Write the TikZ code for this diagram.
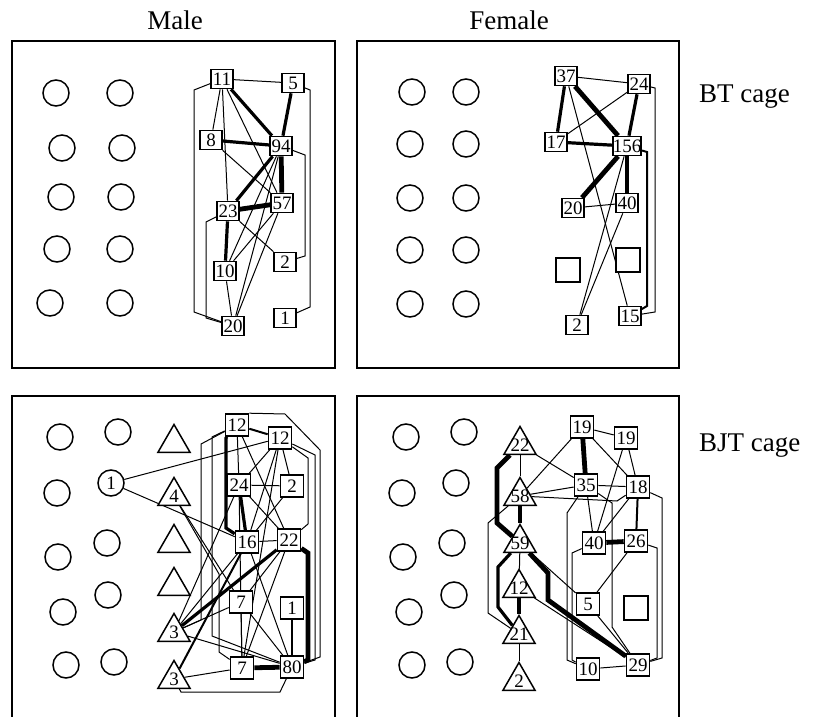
\documentclass[tikz,border=0pt]{standalone}
\usepackage{fontspec}
\setmainfont{Liberation Serif}
\usetikzlibrary{shapes.geometric,backgrounds}

\begin{document}
\begin{tikzpicture}[x=1pt,y=-1pt]
\tikzstyle{every node}+=[inner sep=0pt]
\tikzstyle{num}=[font=\fontsize{19}{19}\selectfont]
\tikzstyle{sq}=[num,draw,fill=white,line width=1.6pt,minimum width=22pt,minimum height=19pt]
\tikzstyle{sqb}=[sq,minimum width=23pt,minimum height=22pt]
\tikzstyle{blank}=[draw,fill=white,line width=1.6pt,minimum size=24pt]
\tikzstyle{ring}=[num,circle,draw,fill=white,line width=1.5pt,minimum size=26pt]
\tikzstyle{tri}=[regular polygon,regular polygon sides=3,draw,fill=white,line width=1.5pt,minimum size=37pt]
\tikzstyle{w1}=[line width=1pt]
\tikzstyle{w2}=[line width=2pt]
\tikzstyle{w3}=[line width=3.2pt]
\tikzstyle{w4}=[line width=4.8pt]
\tikzstyle{frame}=[line width=1.4pt]
\tikzstyle{head}=[font=\fontsize{27}{27}\selectfont]
\useasboundingbox (0,0) rectangle (817,717);

% headings
\node[head] (male) at (175,20) {Male};
\node[head] (female) at (509,20) {Female};
\node[head,anchor=west] (bt) at (699,97) {BT cage};
\node[head,anchor=west] (bjt) at (699,446) {BJT cage};

% cages
\draw[frame] (12,41) rectangle (335,368);
\draw[frame] (357,41) rectangle (679,368);
\draw[frame] (12,730) -- (12,396) -- (335,396) -- (335,730);
\draw[frame] (357,730) -- (357,396) -- (679,396) -- (679,730);

% BT cage, male
\foreach \x/\y [count=\i] in {56/93,120/93,62/148,122/148,61/197,121/197,57/249,120/249,50/303,120/303}
  \node[ring] (mc\i) at (\x,\y) {};
\node[sq] (m11) at (222,79) {11};
\node[sq] (m5) at (293,83) {5};
\node[sq] (m8) at (211,140) {8};
\node[sq] (m94) at (281,146) {94};
\node[sq] (m57) at (282,203) {57};
\node[sq] (m23) at (228,211) {23};
\node[sq] (m2) at (285,262) {2};
\node[sq] (m10) at (225,271) {10};
\node[sq] (m20) at (233,326) {20};
\node[sq] (m1) at (285,318) {1};

% BT cage, female
\foreach \x/\y [count=\i] in {412/92,466/92,410/144,466/144,410/198,466/198,410/250,466/250,410/304,466/304}
  \node[ring] (fc\i) at (\x,\y) {};
\node[sq] (f37) at (566,76) {37};
\node[sq] (f24) at (639,84) {24};
\node[sq] (f17) at (556,142) {17};
\node[sq] (f156) at (627,146) {156};
\node[sq] (f20) at (573,208) {20};
\node[sq] (f40) at (627,203) {40};
\node[blank] (fe1) at (568,270) {};
\node[blank] (fe2) at (628,260) {};
\node[sq] (f2) at (577,325) {2};
\node[sq] (f15) at (630,316) {15};

% BJT cage, male
\foreach \x/\y [count=\i] in {60/437,57/493,58/557,63/612,66/665,118/432,107/543,108/595,114/662}
  \node[ring] (jmc\i) at (\x,\y) {};
\node[ring] (jm1c) at (111,483) {1};
\foreach \y [count=\i] in {443,543,586}
  \node[tri] (jmt\i) at (174,\y) {};
\node[tri,label={[num]center:4}] (jm4) at (174,496) {};
\node[tri,label={[num]center:3}] (jm3a) at (174,632) {};
\node[tri,label={[num]center:3}] (jm3b) at (174,679) {};
\node[sqb] (jm12a) at (237,425) {12};
\node[sqb] (jm12b) at (280,438) {12};
\node[sqb] (jm24) at (239,485) {24};
\node[sqb] (jm2) at (292,486) {2};
\node[sqb] (jm16) at (247,542) {16};
\node[sqb] (jm22) at (289,540) {22};
\node[sqb] (jm7a) at (241,602) {7};
\node[sqb] (jm1) at (292,608) {1};
\node[sqb] (jm7b) at (242,668) {7};
\node[sqb] (jm80) at (292,667) {80};

% BJT cage, female
\foreach \x/\y [count=\i] in {406/437,402/493,403/557,409/612,412/665,464/432,456/483,452/543,454/595,460/662}
  \node[ring] (jfc\i) at (\x,\y) {};
\node[tri,label={[num]center:22}] (jf22) at (520,445) {};
\node[tri,label={[num]center:58}] (jf58) at (520,496) {};
\node[tri,label={[num]center:59}] (jf59) at (520,543) {};
\node[tri,label={[num]center:12}] (jf12) at (519,588) {};
\node[tri,label={[num]center:21}] (jf21) at (519,634) {};
\node[tri,label={[num]center:2}] (jf2) at (519,681) {};
\node[sqb] (jf19a) at (582,427) {19};
\node[sqb] (jf19b) at (626,438) {19};
\node[sqb] (jf35) at (586,485) {35};
\node[sqb] (jf18) at (638,487) {18};
\node[sqb] (jf40) at (594,543) {40};
\node[sqb] (jf26) at (636,541) {26};
\node[sqb] (jf5) at (588,604) {5};
\node[blank] (jfe) at (636,608) {};
\node[sqb] (jf10) at (588,669) {10};
\node[sqb] (jf29) at (638,665) {29};

\begin{scope}[on background layer]
% BT cage, male
\draw[w1] (m11) -- (m5);
\draw[w1] (m11) -- (m8);
\draw[w1] (m11) -- (m57);
\draw[w1] (m11) -- (m23);
\draw[w1] (m8) -- (m57);
\draw[w1] (m94) -- (m10);
\draw[w1] (m94) -- (m20);
\draw[w1] (m57) -- (m10);
\draw[w1] (m57) -- (m20);
\draw[w1] (m23) -- (m2);
\draw[w1] (m10) -- (m20);
\draw[w3] (m11) -- (m94);
\draw[w3] (m5) -- (m94);
\draw[w3] (m8) -- (m94);
\draw[w3] (m94) -- (m23);
\draw[w3] (m23) -- (m10);
\draw[w4] (m94) -- (m57);
\draw[w4] (m23) -- (m57);
\draw[w1] (m94) -- (305,155) -- (305,256) -- (m2);
\draw[w1] (m23) -- (206,222) -- (206,318) -- (m20);
\draw[w1] (m11) -- (194,90) -- (194,312) -- (m20);
\draw[w1] (m5) -- (310,90) -- (310,307) -- (m1);

% BT cage, female
\draw[w1] (f37) -- (f24);
\draw[w1] (f37) -- (f15);
\draw[w1] (f24) -- (f17);
\draw[w1] (f20) -- (f40);
\draw[w1] (f156) -- (f2);
\draw[w1] (f40) -- (f2);
\draw[w3] (f37) -- (f17);
\draw[w3] (f24) -- (f156);
\draw[w3] (f17) -- (f156);
\draw[w4] (f37) -- (f156);
\draw[w4] (f156) -- (f20);
\draw[w4] (f156) -- (f40);
\draw[w1] (f24) -- (655,88) -- (655,312) -- (f15);
\draw[w2] (f156) -- (647,152) -- (647,306) -- (f15);

% BJT cage, male
\draw[w1] (jm1c) -- (jm12b);
\draw[w1] (jm1c) -- (jm16);
\draw[w1] (jm4) -- (jm7a);
\draw[w1] (jm3a) -- (jm24);
\draw[w1] (jm3a) -- (jm16);
\draw[w1] (jm3a) -- (jm7a);
\draw[w1] (jm3a) -- (jm80);
\draw[w1] (jm3b) -- (jm7b);
\draw[w1] (jm12a) -- (jm24);
\draw[w1] (jm12a) -- (jm22);
\draw[w1] (jm12b) -- (jm24);
\draw[w1] (jm12b) -- (jm2);
\draw[w1] (jm12b) -- (jm16);
\draw[w1] (jm12b) -- (jm7b);
\draw[w1] (jm24) -- (jm2);
\draw[w1] (jm24) -- (jm22);
\draw[w1] (jm24) -- (jm7b);
\draw[w1] (jm2) -- (jm16);
\draw[w1] (jm16) -- (jm22);
\draw[w1] (jm16) -- (jm80);
\draw[w1] (jm22) -- (jm7a);
\draw[w1] (jm22) -- (jm7b);
\draw[w1] (jm7a) -- (jm7b);
\draw[w1] (jm7a) -- (jm80);
\draw[w2] (jm12a) -- (jm12b);
\draw[w2] (jm1) -- (jm80);
\draw[w2] (jm3b) -- (jm16);
\draw[w3] (jm3a) -- (jm22);
\draw[w3] (jm24) -- (jm16);
\draw[w4] (jm7b) -- (jm80);
\draw[w1] (jm12a) -- (201,444) -- (201,620) -- (jm3a);
\draw[w1] (jm12a) -- (212,437) -- (212,636) -- (jm80);
\draw[w1] (jm4) -- (219,574) -- (219,652) -- (jm7b);
\draw[w3] (jm12a) -- (226,438) -- (226,528) -- (jm16);
\draw[w1] (jm3b) -- (181,692) -- (280,692) -- (jm80);
\draw[w1] (jm12a.north east) -- (285,414) -- (320,450) -- (320,657) -- (jm80);
\draw[w1] (jm12b) -- (315,455) -- (315,660) -- (jm80);
\draw[w1] (jm12b) -- (308,458) -- (308,524) -- (jm22);
\draw[w4] (jm22) -- (308,553) -- (308,660) -- (jm80);

% BJT cage, female
\draw[w1] (jf22) -- (jf58);
\draw[w1] (jf22) -- (jf35);
\draw[w1] (jf19a) -- (jf19b);
\draw[w1] (jf19a) -- (jf58);
\draw[w1] (jf19a) -- (jf18);
\draw[w1] (jf19b) -- (jf18);
\draw[w1] (jf19b) -- (jf40);
\draw[w1] (jf58) -- (jf35);
\draw[w1] (jf35) -- (jf18);
\draw[w1] (jf35) -- (jf40);
\draw[w1] (jf18) -- (jf40);
\draw[w1] (jf26) -- (jf5);
\draw[w1] (jf59) -- (jf12);
\draw[w1] (jf59) -- (jf5);
\draw[w1] (jf12) -- (jf29);
\draw[w1] (jf5) -- (jf29);
\draw[w1] (jf10) -- (jf29);
\draw[w1] (jf21) -- (jf2);
\draw[w2] (jf18) -- (jf26);
\draw[w4] (jf19a) -- (jf35);
\draw[w4] (jf58) -- (jf59);
\draw[w4] (jf40) -- (jf26);
\draw[w4] (jf12) -- (jf21);
\draw[w4] (jf22) -- (497,468) -- (497,523) -- (jf59);
\draw[w1] (jf58) -- (488,523) -- (488,613) -- (jf21);
\draw[w3] (jf59) -- (498,567) -- (498,607) -- (jf21);
\draw[w4] (jf59) -- (548,573) -- (548,600) -- (jf29);
\draw[w1] (jf58) -- (617,501) -- (jf18);
\draw[w1] (jf35) -- (567,513) -- (567,660) -- (jf10);
\draw[w1] (jf40) -- (572,553) -- (572,660) -- (jf10);
\draw[w1] (jf35) -- (612,503) -- (612,627) -- (jf29);
\draw[w1] (jf18) -- (662,498) -- (662,658) -- (jf29);
\draw[w1] (jf26) -- (657,548) -- (657,658) -- (jf29);
\end{scope}
\end{tikzpicture}
\end{document}
